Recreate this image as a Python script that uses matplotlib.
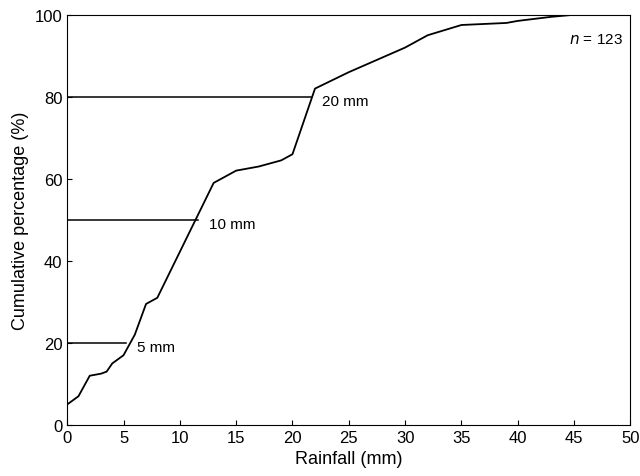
import matplotlib
matplotlib.use("Agg")
import matplotlib.pyplot as plt
plt.rcParams['font.family'] = ['Liberation Sans', 'DejaVu Sans']

rain = [0, 1, 2, 3, 3.5, 4, 5, 6, 7, 8, 13, 15, 17, 19, 20, 22, 25, 30, 32, 35, 39, 40, 43, 45, 46]
cum = [5, 7, 12, 12.5, 13, 15, 17, 22, 29.5, 31, 59, 62, 63, 64.5, 66, 82, 86, 92, 95, 97.5, 98, 98.5, 99.5, 100, 100]
thr_labels = ["5 mm", "10 mm", "20 mm"]
thr_pct = [20, 50, 80]
thr_x = [5.2, 11.6, 21.6]

fig = plt.figure(figsize=(6.4, 4.77), dpi=100)
ax = fig.add_axes([0.105, 0.107, 0.88, 0.86])
ax.plot(rain, cum, color="black", lw=1.3)
for lab, p, x in zip(thr_labels, thr_pct, thr_x):
    ax.plot([0, x], [p, p], color="black", lw=1.1)
    ax.text(x + 1.0, p - 1, lab, fontsize=11, va="center")
ax.text(49.3, 94, "$n$ = 123", fontsize=11, ha="right", va="center")
ax.set_xlim(0, 50)
ax.set_ylim(0, 100)
ax.set_xticks(range(0, 51, 5))
ax.set_yticks(range(0, 101, 20))
ax.tick_params(direction="in", labelsize=12)
ax.set_xlabel("Rainfall (mm)", fontsize=13)
ax.set_ylabel("Cumulative percentage (%)", fontsize=13)
fig.savefig("out.png")
